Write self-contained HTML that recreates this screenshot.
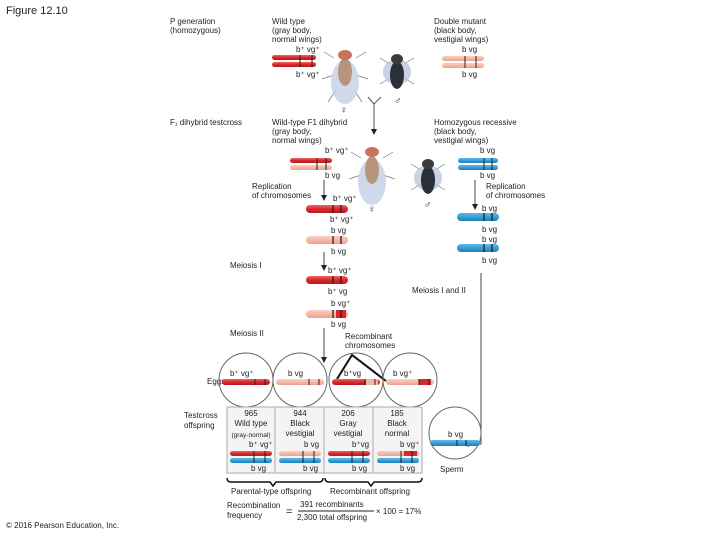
<!DOCTYPE html>
<html><head><style>
body{margin:0;background:#fff;width:720px;height:540px;overflow:hidden;font-family:"Liberation Sans",sans-serif}
svg text{font-family:"Liberation Sans",sans-serif;font-size:8px;fill:#222}
</style></head><body>
<svg width="720" height="540" viewBox="0 0 720 540">
<defs>
<linearGradient id="r" x1="0" y1="0" x2="0" y2="1"><stop offset="0" stop-color="#f06a62"/><stop offset=".5" stop-color="#d8262b"/><stop offset="1" stop-color="#b81c20"/></linearGradient>
<linearGradient id="p" x1="0" y1="0" x2="0" y2="1"><stop offset="0" stop-color="#fbd0c2"/><stop offset="1" stop-color="#eea08e"/></linearGradient>
<linearGradient id="b" x1="0" y1="0" x2="0" y2="1"><stop offset="0" stop-color="#5cbbe8"/><stop offset="1" stop-color="#1b7fbf"/></linearGradient>
<marker id="ah" markerWidth="6" markerHeight="6" refX="3" refY="3" orient="auto"><path d="M0,0 L6,3 L0,6z" fill="#222"/></marker>
</defs>
<text x="6" y="14" style="font-size:11px">Figure 12.10</text>
<text x="6" y="528" style="font-size:8px">© 2016 Pearson Education, Inc.</text>

<!-- P generation -->
<text x="170" y="24">P generation</text><text x="170" y="33">(homozygous)</text>
<text x="272" y="24">Wild type</text><text x="272" y="33">(gray body,</text><text x="272" y="42">normal wings)</text>
<text x="296" y="52">b⁺ vg⁺</text><text x="296" y="77">b⁺ vg⁺</text>
<rect x="272" y="55" width="44" height="5" rx="2.5" fill="url(#r)"/><rect x="272" y="62" width="44" height="5" rx="2.5" fill="url(#r)"/>
<path d="M300 55v12M312 55v12" stroke="#222"/>
<text x="434" y="24">Double mutant</text><text x="434" y="33">(black body,</text><text x="434" y="42">vestigial wings)</text>
<text x="462" y="52">b    vg</text><text x="462" y="77">b    vg</text>
<rect x="442" y="56" width="42" height="5" rx="2.5" fill="url(#p)"/><rect x="442" y="63" width="42" height="5" rx="2.5" fill="url(#p)"/>
<path d="M465 56v12M476 56v12" stroke="#222"/>
<!-- flies P -->
<g stroke="#777" stroke-width=".7"><path d="M334 58 l-10 -6 M356 58 l10 -6 M334 75 l-12 4 M356 75 l12 4 M336 90 l-8 12 M354 90 l8 12"/></g>
<g><ellipse cx="345" cy="82" rx="14" ry="22" fill="#c8d2e6" opacity=".85"/><ellipse cx="345" cy="72" rx="7" ry="14" fill="#b7957c"/><ellipse cx="345" cy="55" rx="7" ry="5" fill="#c9725e"/></g>
<g stroke="#777" stroke-width=".7"><path d="M390 64 l-10 -6 M404 64 l10 -6 M390 78 l-10 6 M404 78 l10 6"/></g>
<g><ellipse cx="397" cy="72" rx="14" ry="13" fill="#b8c4dc" opacity=".75"/><ellipse cx="397" cy="75" rx="7" ry="14" fill="#2b3038"/><ellipse cx="397" cy="59" rx="6" ry="5" fill="#3c3c3c"/></g>
<text x="340" y="113" style="font-size:10px">♀</text><text x="394" y="104" style="font-size:10px">♂</text>
<path d="M368 97 L374 104 L381 97 M374 104 V132" stroke="#555" fill="none" marker-end="url(#ah)"/>

<!-- F1 -->
<text x="170" y="125">F₁ dihybrid testcross</text>
<text x="272" y="125">Wild-type F1 dihybrid</text><text x="272" y="134">(gray body,</text><text x="272" y="143">normal wings)</text>
<text x="325" y="153">b⁺ vg⁺</text><text x="325" y="178">b   vg</text>
<rect x="290" y="158" width="42" height="5" rx="2.5" fill="url(#r)"/><rect x="290" y="165" width="42" height="5" rx="2.5" fill="url(#p)"/>
<path d="M317 158v12M326 158v12" stroke="#222"/>
<text x="434" y="125">Homozygous recessive</text><text x="434" y="134">(black body,</text><text x="434" y="143">vestigial wings)</text>
<text x="480" y="153">b vg</text><text x="480" y="178">b vg</text>
<rect x="458" y="158" width="40" height="5" rx="2.5" fill="url(#b)"/><rect x="458" y="165" width="40" height="5" rx="2.5" fill="url(#b)"/>
<path d="M484 158v12M492 158v12" stroke="#222"/>
<g stroke="#777" stroke-width=".7"><path d="M361 158 l-10 -6 M383 158 l10 -6 M361 175 l-12 4 M383 175 l12 4"/></g>
<g><ellipse cx="372" cy="182" rx="14" ry="23" fill="#c8d2e6" opacity=".85"/><ellipse cx="372" cy="170" rx="7" ry="14" fill="#b7957c"/><ellipse cx="372" cy="152" rx="7" ry="5" fill="#c9725e"/></g>
<g stroke="#777" stroke-width=".7"><path d="M421 170 l-10 -6 M435 170 l10 -6 M421 184 l-10 6 M435 184 l10 6"/></g>
<g><ellipse cx="428" cy="178" rx="14" ry="13" fill="#b8c4dc" opacity=".75"/><ellipse cx="428" cy="180" rx="7" ry="14" fill="#2b3038"/><ellipse cx="428" cy="164" rx="6" ry="5" fill="#3c3c3c"/></g>
<text x="368" y="212" style="font-size:10px">♀</text><text x="424" y="208" style="font-size:10px">♂</text>

<text x="252" y="189">Replication</text><text x="252" y="198">of chromosomes</text>
<path d="M324 180V198" stroke="#444" marker-end="url(#ah)"/>
<text x="486" y="189">Replication</text><text x="486" y="198">of chromosomes</text>
<path d="M475 180V207" stroke="#444" marker-end="url(#ah)"/>

<text x="333" y="201">b⁺ vg⁺</text><text x="330" y="222">b⁺ vg⁺</text>
<rect x="306" y="205" width="42" height="8" rx="4" fill="url(#r)"/><path d="M333 205v8M341 205v8" stroke="#222" stroke-width="1.3"/>
<text x="331" y="233">b vg</text><text x="331" y="254">b vg</text>
<rect x="306" y="236" width="42" height="8" rx="4" fill="url(#p)"/><path d="M333 236v8M341 236v8" stroke="#222" stroke-width="1.3"/>
<text x="482" y="211">b vg</text><text x="482" y="232">b vg</text><text x="482" y="242">b vg</text><text x="482" y="263">b vg</text>
<rect x="457" y="213" width="42" height="8" rx="4" fill="url(#b)"/><path d="M484 213v8M492 213v8" stroke="#222" stroke-width="1.3"/>
<rect x="457" y="244" width="42" height="8" rx="4" fill="url(#b)"/><path d="M484 244v8M492 244v8" stroke="#222" stroke-width="1.3"/>

<text x="230" y="268">Meiosis I</text>
<path d="M324 252V268" stroke="#444" marker-end="url(#ah)"/>
<text x="328" y="273">b⁺ vg⁺</text><text x="328" y="294">b⁺ vg</text>
<rect x="306" y="276" width="42" height="8" rx="4" fill="url(#r)"/><path d="M333 276v8M341 276v8" stroke="#222" stroke-width="1.3"/>
<text x="331" y="306">b  vg⁺</text><text x="331" y="327">b  vg</text>
<rect x="306" y="310" width="42" height="8" rx="4" fill="url(#p)"/><rect x="336" y="310" width="10" height="8" fill="#d8262b"/><path d="M333 310v8M341 310v8" stroke="#222" stroke-width="1.3"/>
<text x="412" y="293">Meiosis I and II</text>
<text x="230" y="336">Meiosis II</text>
<path d="M324 328V360" stroke="#444" marker-end="url(#ah)"/>
<text x="345" y="339">Recombinant</text><text x="345" y="348">chromosomes</text>
<path d="M337 379 L352 355 L386 381" stroke="#111" stroke-width="2" fill="none"/>
<path d="M481 273V444 H466" stroke="#444" fill="none" marker-end="url(#ah)"/>

<!-- eggs -->
<text x="207" y="384">Eggs</text>
<g fill="none" stroke="#666"><circle cx="246" cy="380" r="27"/><circle cx="300" cy="380" r="27"/><circle cx="356" cy="380" r="27"/><circle cx="410" cy="380" r="27"/><circle cx="455" cy="433" r="26"/></g>
<text x="230" y="376">b⁺ vg⁺</text><text x="288" y="376">b   vg</text><text x="344" y="376">b⁺vg</text><text x="393" y="376">b  vg⁺</text>
<rect x="222" y="379" width="48" height="6" rx="3" fill="url(#r)"/><path d="M255 379v6M265 379v6" stroke="#222"/>
<rect x="276" y="379" width="48" height="6" rx="3" fill="url(#p)"/><path d="M309 379v6M319 379v6" stroke="#222"/>
<rect x="332" y="379" width="48" height="6" rx="3" fill="url(#r)"/><rect x="366" y="379" width="12" height="6" fill="#f3b5a5"/><path d="M365 379v6M375 379v6" stroke="#222"/>
<rect x="386" y="379" width="48" height="6" rx="3" fill="url(#p)"/><rect x="419" y="379" width="12" height="6" fill="#d8262b"/><path d="M419 379v6M429 379v6" stroke="#222"/>
<text x="448" y="437">b vg</text>
<rect x="430" y="440" width="50" height="6" rx="3" fill="url(#b)"/><path d="M457 440v6M466 440v6" stroke="#222"/>
<text x="440" y="472">Sperm</text>

<!-- table -->
<text x="184" y="418">Testcross</text><text x="184" y="428">offspring</text>
<rect x="227" y="407" width="195" height="66" fill="#f4f4f4" stroke="#aaa"/>
<path d="M275 407v66M324 407v66M373 407v66" stroke="#aaa"/>
<g text-anchor="middle">
<text x="251" y="416">965</text><text x="251" y="426">Wild type</text><text x="251" y="437" style="font-size:6.5px">(gray-normal)</text>
<text x="300" y="416">944</text><text x="300" y="426">Black</text><text x="300" y="436">vestigial</text>
<text x="348" y="416">206</text><text x="348" y="426">Gray</text><text x="348" y="436">vestigial</text>
<text x="397" y="416">185</text><text x="397" y="426">Black</text><text x="397" y="436">normal</text>
</g>
<text x="249" y="447">b⁺ vg⁺</text><text x="304" y="447">b  vg</text><text x="352" y="447">b⁺vg</text><text x="400" y="447">b vg⁺</text>
<text x="251" y="471">b  vg</text><text x="303" y="471">b  vg</text><text x="352" y="471">b  vg</text><text x="400" y="471">b  vg</text>
<rect x="230" y="451" width="42" height="5" rx="2.5" fill="url(#r)"/><rect x="230" y="458" width="42" height="5" rx="2.5" fill="url(#b)"/>
<rect x="279" y="451" width="42" height="5" rx="2.5" fill="url(#p)"/><rect x="279" y="458" width="42" height="5" rx="2.5" fill="url(#b)"/>
<rect x="328" y="451" width="42" height="5" rx="2.5" fill="url(#r)"/><rect x="328" y="458" width="42" height="5" rx="2.5" fill="url(#b)"/>
<rect x="377" y="451" width="42" height="5" rx="2.5" fill="url(#p)"/><rect x="404" y="451" width="13" height="5" fill="#d8262b"/><rect x="377" y="458" width="42" height="5" rx="2.5" fill="url(#b)"/>
<path d="M254 451v12M265 451v12M303 451v12M314 451v12M352 451v12M363 451v12M401 451v12M412 451v12" stroke="#222"/>
<path d="M227 478 q0 4 4 4 H270 l3 4 l3 -4 H319 q4 0 4 -4 M325 478 q0 4 4 4 H368 l3 4 l3 -4 H418 q4 0 4 -4" stroke="#111" stroke-width="1.5" fill="none"/>
<text x="231" y="494">Parental-type offspring</text><text x="330" y="494">Recombinant offspring</text>
<text x="227" y="508">Recombination</text><text x="227" y="518">frequency</text>
<text x="286" y="515" style="font-size:11px">=</text>
<text x="300" y="507">391 recombinants</text>
<path d="M298 511H374" stroke="#222"/>
<text x="297" y="520">2,300 total offspring</text>
<text x="376" y="514">× 100  =  17%</text>
</svg>
</body></html>
